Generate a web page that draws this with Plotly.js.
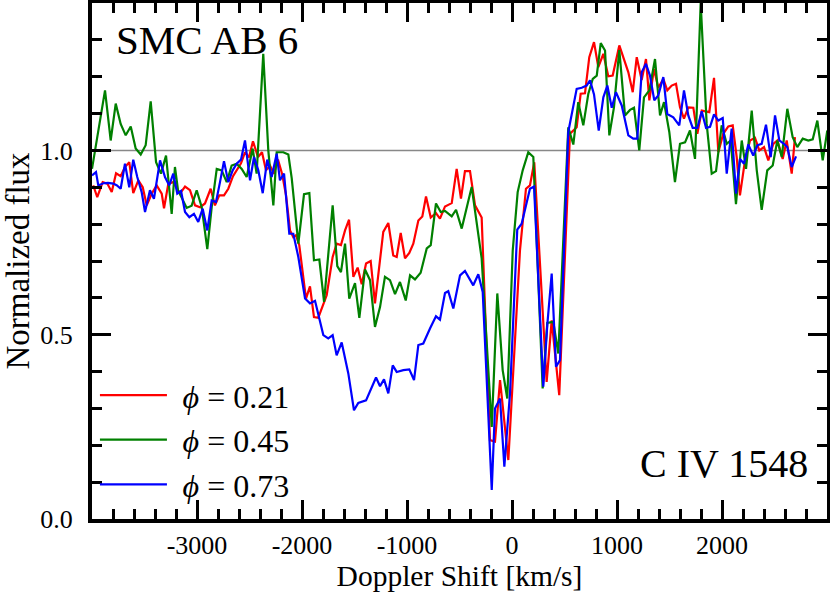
<!DOCTYPE html>
<html>
<head>
<meta charset="utf-8">
<script src="https://cdn.plot.ly/plotly-3.0.1.min.js"></script>
<style>html,body{margin:0;padding:0;background:#fff;}#chart{width:830px;height:594px;}</style>
</head>
<body>
<div id="chart"></div>
<script>
// Doppler shift [km/s] and normalized flux for the three phases
var vRed = [-3988,-3950,-3898,-3854,-3812,-3771,-3727,-3686,-3645,-3607,-3559,-3517,-3479,-3431,-3384,-3336,-3314,-3273,-3226,-3162,-3114,-3067,-3019,-2971,-2924,-2870,-2829,-2788,-2743,-2702,-2657,-2619,-2581,-2543,-2505,-2467,-2419,-2381,-2343,-2305,-2267,-2229,-2190,-2152,-2114,-2083,-2057,-2026,-1962,-1924,-1886,-1845,-1765,-1708,-1670,-1629,-1590,-1552,-1511,-1470,-1431,-1390,-1346,-1305,-1226,-1178,-1131,-1098,-1060,-1019,-978,-940,-892,-854,-819,-774,-724,-686,-638,-574,-527,-486,-448,-400,-352,-289,-210,-162,-114,-35,76,133,171,212,330,378,450,552,616,654,695,736,781,822,870,917,959,1022,1067,1108,1150,1188,1235,1276,1308,1352,1393,1441,1479,1521,1562,1600,1638,1679,1727,1765,1807,1879,1924,1965,2012,2060,2102,2140,2171,2219,2267,2314,2355,2400,2441,2489,2527,2578,2616,2664,2695];
var fRed = [0.905,0.873,0.914,0.910,0.887,0.938,0.930,0.955,0.968,0.884,0.919,0.900,0.851,0.883,0.905,0.883,0.843,0.910,0.914,0.883,0.902,0.892,0.851,0.846,0.856,0.896,0.851,0.878,0.878,0.896,0.930,0.946,0.965,0.995,0.981,1.025,0.982,0.995,0.946,0.959,0.937,0.975,0.937,0.878,0.783,0.765,0.770,0.743,0.598,0.631,0.548,0.546,0.607,0.711,0.747,0.743,0.783,0.812,0.657,0.682,0.637,0.693,0.700,0.585,0.779,0.803,0.715,0.711,0.776,0.707,0.722,0.747,0.810,0.821,0.875,0.818,0.830,0.815,0.848,0.857,0.950,0.869,0.944,0.944,0.851,0.818,0.214,0.210,0.377,0.160,0.729,0.896,0.905,0.968,0.372,0.539,0.336,1.045,1.063,1.154,1.155,1.253,1.294,1.226,1.262,1.201,1.203,1.285,1.244,1.212,1.158,1.253,1.191,1.248,1.136,1.221,1.170,1.194,1.163,1.176,1.181,1.117,1.086,1.117,1.116,1.045,1.108,1.104,1.197,0.995,1.045,1.065,1.068,0.982,0.878,0.973,1.027,1.034,1.000,1.009,0.973,1.018,1.027,0.977,1.027,0.937,1.036];

var vGreen = [-4000,-3876,-3822,-3774,-3727,-3679,-3631,-3584,-3536,-3489,-3441,-3390,-3343,-3295,-3241,-3210,-3181,-3098,-3051,-3003,-2955,-2902,-2860,-2812,-2765,-2717,-2670,-2622,-2574,-2527,-2470,-2432,-2369,-2321,-2273,-2241,-2178,-2130,-2098,-2035,-1981,-1930,-1886,-1835,-1790,-1708,-1664,-1629,-1590,-1550,-1495,-1454,-1400,-1352,-1305,-1257,-1210,-1162,-1114,-1067,-1012,-971,-924,-870,-812,-774,-724,-679,-638,-574,-533,-479,-384,-289,-193,-140,-89,-45,7,54,102,155,203,292,336,393,441,536,584,631,679,727,769,807,845,886,927,971,1022,1076,1124,1162,1212,1257,1308,1362,1410,1448,1498,1552,1600,1648,1695,1743,1797,1854,1902,1943,1997,2045,2083,2133,2188,2229,2283,2331,2378,2431,2483,2527,2569,2622,2673,2717,2769,2822,2864,2908,2959,3003];
var fGreen = [0.950,1.163,1.027,1.127,1.072,1.041,1.065,1.005,0.989,1.014,1.133,0.968,0.937,0.986,0.828,0.955,0.892,0.844,0.850,0.892,0.846,0.732,0.846,0.950,0.946,0.914,0.959,0.964,0.950,0.928,1.005,0.937,1.262,1.000,0.851,0.995,0.995,0.989,0.925,0.747,0.881,0.884,0.702,0.704,0.589,0.851,0.686,0.670,0.747,0.598,0.640,0.546,0.677,0.648,0.521,0.575,0.657,0.648,0.610,0.643,0.593,0.661,0.650,0.668,0.734,0.743,0.856,0.833,0.836,0.821,0.839,0.788,0.901,0.707,0.250,0.612,0.404,0.327,0.729,0.887,0.946,0.995,0.982,0.354,0.532,0.535,0.449,1.063,1.016,1.131,1.068,1.154,1.194,1.203,1.291,1.271,1.041,1.117,1.272,1.095,1.110,1.116,1.000,1.144,1.163,1.248,1.095,1.131,1.050,0.914,1.018,1.022,1.054,0.977,1.400,1.072,0.937,0.944,1.068,1.018,1.027,0.854,1.027,0.950,1.108,0.946,0.839,0.946,0.959,1.027,0.982,1.113,1.036,1.009,1.032,1.027,1.030,1.081,0.973,1.054];

var vBlue = [-4000,-3962,-3940,-3892,-3848,-3797,-3762,-3727,-3686,-3645,-3607,-3569,-3527,-3495,-3448,-3410,-3352,-3305,-3264,-3226,-3188,-3152,-3114,-3073,-3029,-2988,-2946,-2902,-2860,-2819,-2781,-2743,-2702,-2660,-2622,-2581,-2543,-2495,-2457,-2416,-2374,-2331,-2289,-2241,-2210,-2171,-2121,-2083,-2035,-1971,-1924,-1876,-1797,-1750,-1708,-1670,-1622,-1559,-1505,-1464,-1390,-1295,-1257,-1219,-1178,-1136,-1098,-1035,-978,-933,-892,-845,-781,-724,-686,-638,-607,-559,-495,-448,-369,-321,-279,-193,-162,-114,-73,-19,50,92,171,210,298,336,378,419,457,536,616,664,711,743,781,826,870,908,950,990,1045,1108,1155,1193,1235,1276,1314,1355,1393,1441,1479,1536,1593,1638,1679,1721,1765,1807,1848,1886,1924,1965,2007,2045,2092,2133,2171,2210,2250,2298,2336,2378,2419,2464,2505,2546,2590,2622,2664,2705];
var fBlue = [0.932,0.941,0.905,0.911,0.912,0.910,0.905,0.896,0.964,0.900,0.975,0.928,0.887,0.833,0.892,0.869,0.973,0.928,0.905,0.937,0.883,0.890,0.833,0.819,0.828,0.806,0.842,0.783,0.864,0.860,0.914,0.971,0.914,0.946,0.964,0.975,1.027,0.919,0.982,0.946,0.884,0.975,0.928,0.991,0.919,0.937,0.774,0.774,0.711,0.598,0.585,0.592,0.499,0.490,0.499,0.444,0.479,0.395,0.295,0.315,0.322,0.384,0.360,0.379,0.341,0.417,0.399,0.404,0.406,0.377,0.472,0.476,0.517,0.550,0.541,0.613,0.618,0.571,0.661,0.673,0.634,0.664,0.616,0.079,0.300,0.327,0.142,0.341,0.785,0.801,0.896,0.902,0.359,0.526,0.666,0.413,0.431,1.050,1.167,1.170,1.176,1.190,1.152,1.054,1.144,1.176,1.116,1.158,1.122,1.041,1.032,1.032,1.212,1.235,1.203,1.136,1.149,1.199,1.099,1.090,1.068,1.163,1.095,1.061,1.061,1.106,1.061,1.064,1.098,1.081,1.088,0.937,1.059,0.883,0.977,0.964,1.016,0.986,1.014,1.018,1.070,0.982,1.095,1.027,1.018,1.009,0.955,0.984];

var seriesNames = ['\u00a0\u200a<i>ϕ</i> = 0.21', '\u00a0\u200a<i>ϕ</i> = 0.45', '\u00a0\u200a<i>ϕ</i> = 0.73'];
var seriesColors = ['#ff0000', '#008000', '#0000ff'];
var xTickVals = [-3000, -2000, -1000, 0, 1000, 2000];
var xTickText = ['-3000', '-2000', '-1000', '0', '1000', '2000'];
var starLabel = 'SMC AB 6';
var lineLabel = 'C IV 1548';
var continuum = 1.0;

var FONT = 'Liberation Serif, Times New Roman, serif';
var xs = [vRed, vGreen, vBlue];
var ys = [fRed, fGreen, fBlue];
var traces = xs.map(function (x, i) {
  return {
    x: x, y: ys[i], type: 'scatter', mode: 'lines', name: seriesNames[i],
    line: {color: seriesColors[i], width: 2.2}
  };
});

var axisCommon = {
  showline: true, linecolor: '#000', linewidth: 4, mirror: 'allticks',
  ticks: 'inside', ticklen: 19, tickwidth: 3, tickcolor: '#000',
  showgrid: false, zeroline: false,
  tickfont: {family: FONT, size: 26, color: '#000'}
};

var layout = {
  width: 830, height: 594,
  margin: {l: 92, r: 3, t: 3, b: 75},
  paper_bgcolor: '#fff', plot_bgcolor: '#fff',
  font: {family: FONT, color: '#000'},
  xaxis: Object.assign({}, axisCommon, {
    range: [-4000, 3000], tickmode: 'array', tickvals: xTickVals, ticktext: xTickText,
    minor: {dtick: 200, tick0: 0, ticks: 'inside', ticklen: 10, tickwidth: 3, tickcolor: '#000'},
    title: {text: 'Doppler Shift [km/s]', font: {family: FONT, size: 29.5, color: '#000'}, standoff: 4}
  }),
  yaxis: Object.assign({}, axisCommon, {
    range: [0, 1.4], dtick: 0.5, tick0: 0, tickformat: '.1f', ticklabelstandoff: 10,
    minor: {dtick: 0.1, tick0: 0, ticks: 'inside', ticklen: 10, tickwidth: 3, tickcolor: '#000'},
    title: {text: 'Normalized flux', font: {family: FONT, size: 33, color: '#000'}, standoff: 22}
  }),
  shapes: [{
    type: 'line', xref: 'paper', x0: 0, x1: 1, yref: 'y', y0: continuum, y1: continuum,
    line: {color: '#888', width: 1.5}, layer: 'below'
  }],
  annotations: [
    {text: starLabel, xref: 'paper', yref: 'paper', x: 0.030, y: 0.977, xanchor: 'left', yanchor: 'top',
     showarrow: false, font: {family: FONT, size: 41, color: '#000'}},
    {text: lineLabel, xref: 'paper', yref: 'paper', x: 0.977, y: 0.06, xanchor: 'right', yanchor: 'bottom',
     showarrow: false, font: {family: FONT, size: 40, color: '#000'}}
  ],
  showlegend: true,
  legend: {x: 0.004, y: 0.293, xanchor: 'left', yanchor: 'top', bgcolor: 'rgba(0,0,0,0)',
           font: {family: FONT, size: 32, color: '#000'}, itemwidth: 67, tracegroupgap: 0}
};

Plotly.newPlot('chart', traces, layout, {staticPlot: true, displayModeBar: false});
</script>
</body>
</html>
